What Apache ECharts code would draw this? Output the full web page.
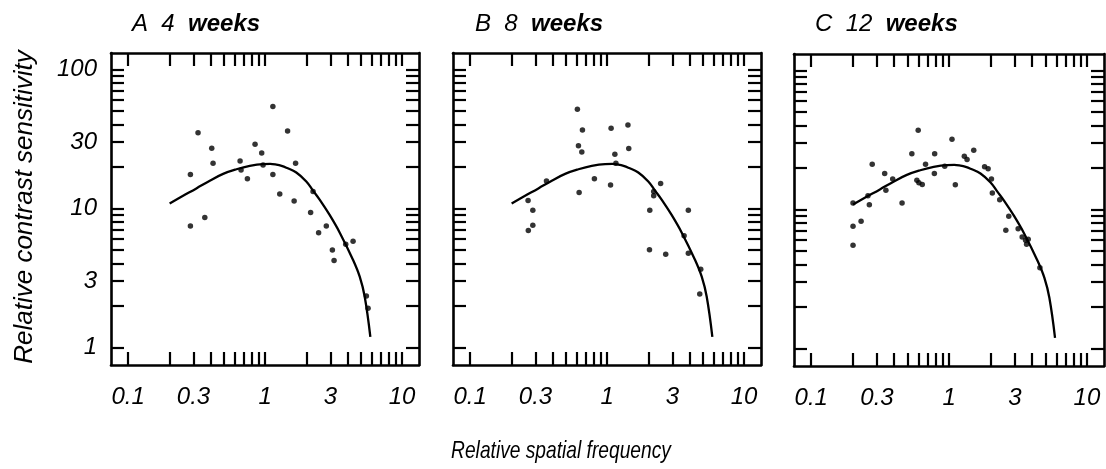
<!DOCTYPE html>
<html>
<head>
<meta charset="UTF-8">
<title>Relative contrast sensitivity</title>
<script src="https://cdn.jsdelivr.net/npm/echarts@6/dist/echarts.min.js"></script>
<style>
  html, body { margin: 0; padding: 0; background: #fff; }
  #chart { width: 1106px; height: 469px; }
</style>
</head>
<body>
<div id="chart"></div>
<script>
// panel titles
var panelLetters = ['A', 'B', 'C'];
var panelAges = ['4', '8', '12'];

// tick marks and tick labels (log axes)
var xTicks = [0.1, 0.2, 0.3, 0.4, 0.5, 0.6, 0.7, 0.8, 0.9, 1, 2, 3, 4, 5, 6, 7, 8, 9, 10];
var xLabels = [0.1, 0.3, 1, 3, 10];
var yTicks = [1, 2, 3, 4, 5, 6, 7, 8, 9, 10, 20, 30, 40, 50, 60, 70, 80, 90, 100];
var yLabels = [1, 3, 10, 30, 100];

// fitted curve (same template in every panel)
var curve = [
  [0.201, 10.85], [0.252, 12.3], [0.315, 13.9], [0.395, 15.8], [0.494, 17.7],
  [0.618, 19.1], [0.773, 20.2], [0.967, 20.8], [1.09, 20.85], [1.21, 20.6],
  [1.32, 20.2], [1.43, 19.6], [1.69, 18.1], [2.00, 15.6], [2.24, 13.4],
  [2.51, 11.5], [2.96, 8.96], [3.51, 6.68], [4.39, 4.25], [4.91, 3.22],
  [5.34, 2.31], [5.87, 1.19]
];

// measured points, 4 weeks
var weeks4 = [
  [0.285, 17.5], [0.285, 7.46], [0.324, 35.0], [0.363, 8.57], [0.408, 27.0],
  [0.417, 21.1], [0.657, 21.9], [0.668, 18.9], [0.743, 16.3], [0.845, 28.9],
  [0.945, 25.0], [0.967, 20.5], [1.14, 53.9], [1.14, 17.5], [1.28, 12.7],
  [1.46, 36.0], [1.63, 11.3], [1.67, 21.1], [2.15, 9.31], [2.24, 13.2],
  [2.46, 6.68], [2.80, 7.46], [3.10, 5.01], [3.19, 4.22], [3.88, 5.51],
  [4.39, 5.79], [5.49, 2.34], [5.65, 1.91]
];

// measured points, 8 weeks
var weeks8 = [
  [0.265, 11.4], [0.287, 9.68], [0.287, 7.55], [0.266, 6.91], [0.361, 15.7],
  [0.607, 51.6], [0.661, 36.6], [0.618, 28.2], [0.654, 25.4], [0.625, 13.0],
  [0.808, 16.3], [1.06, 14.7], [1.07, 37.6], [1.14, 24.5], [1.16, 21.1],
  [1.42, 39.8], [1.44, 26.9], [2.05, 9.68], [2.04, 5.04], [2.19, 13.2],
  [2.19, 12.3], [2.46, 15.1], [2.68, 4.67], [3.65, 6.36], [3.92, 9.68],
  [3.92, 4.75], [4.83, 3.64], [4.75, 2.42]
];

// measured points, 12 weeks
var weeks12 = [
  [0.201, 11.1], [0.201, 7.55], [0.201, 5.51], [0.230, 8.20], [0.264, 10.8],
  [0.258, 12.5], [0.277, 21.1], [0.341, 18.1], [0.348, 13.7], [0.390, 16.5],
  [0.456, 11.1], [0.537, 25.1], [0.597, 37.0], [0.584, 16.2], [0.604, 15.5],
  [0.639, 15.1], [0.675, 21.1], [0.786, 25.1], [0.782, 18.1], [0.930, 20.4],
  [1.05, 31.9], [1.11, 15.0], [1.29, 24.1], [1.35, 22.8], [1.51, 26.6],
  [1.81, 20.2], [1.92, 19.6], [2.03, 16.5], [2.06, 13.1], [2.33, 11.7],
  [2.71, 8.91], [2.58, 7.06], [3.17, 7.26], [3.39, 6.32], [3.59, 5.98],
  [3.75, 6.08], [3.65, 5.60], [4.56, 3.80]
];

var panelPoints = [weeks4, weeks8, weeks12];

var chart = echarts.init(document.getElementById('chart'), null, { renderer: 'canvas' });

var FONT = 'Liberation Sans';
var X_MIN = 0.075, X_MAX = 13.3;
var Y_MIN = 0.746, Y_MAX = 131;

var grids = [
  { left: 111, top: 53, width: 308, height: 312 },
  { left: 453, top: 53, width: 308, height: 312 },
  { left: 794, top: 54, width: 310, height: 312 }
];
var titleLeft = [132, 475, 815];

var lineStyle = { color: '#000', width: 2.6 };
var tickStyle = { color: '#000', width: 2.2 };

function xAxisOf(i, pos) {
  return {
    type: 'log', logBase: 10, gridIndex: i, position: pos,
    min: X_MIN, max: X_MAX,
    axisLine: { show: true, onZero: false, lineStyle: lineStyle },
    axisTick: { show: true, inside: true, length: 13, customValues: xTicks, lineStyle: tickStyle },
    minorTick: { show: false },
    splitLine: { show: false },
    axisLabel: pos === 'bottom' ? {
      show: true, customValues: xLabels, margin: 20,
      fontFamily: FONT, fontStyle: 'italic', fontSize: 24, color: '#000',
      formatter: function (v) { return String(v); }
    } : { show: false }
  };
}

function yAxisOf(i, pos) {
  return {
    type: 'log', logBase: 10, gridIndex: i, position: pos,
    min: Y_MIN, max: Y_MAX,
    axisLine: { show: true, onZero: false, lineStyle: lineStyle },
    axisTick: { show: true, inside: true, length: 13, customValues: yTicks, lineStyle: tickStyle },
    minorTick: { show: false },
    splitLine: { show: false },
    axisLabel: (pos === 'left' && i === 0) ? {
      show: true, customValues: yLabels, margin: 14,
      fontFamily: FONT, fontStyle: 'italic', fontSize: 24, color: '#000',
      formatter: function (v) { return String(v); }
    } : { show: false }
  };
}

var xAxes = [], yAxes = [], series = [], titles = [];
for (var i = 0; i < 3; i++) {
  xAxes.push(xAxisOf(i, 'bottom'));
  xAxes.push(xAxisOf(i, 'top'));
  yAxes.push(yAxisOf(i, 'left'));
  yAxes.push(yAxisOf(i, 'right'));

  series.push({
    type: 'line', xAxisIndex: i * 2, yAxisIndex: i * 2,
    data: curve, smooth: 0.4, showSymbol: false, symbol: 'none',
    lineStyle: { color: '#000', width: 2.3 }, silent: true, z: 3
  });
  series.push({
    type: 'scatter', xAxisIndex: i * 2, yAxisIndex: i * 2,
    data: panelPoints[i], symbol: 'circle', symbolSize: 5.5,
    itemStyle: { color: '#000' }, silent: true, z: 4
  });

  titles.push({
    text: '{n|' + panelLetters[i] + '  ' + panelAges[i] + '  }{b|weeks}',
    left: titleLeft[i], top: 12, padding: 0,
    textStyle: {
      fontWeight: 'normal',
      rich: {
        n: { fontFamily: FONT, fontStyle: 'italic', fontWeight: 'normal', fontSize: 24, color: '#000' },
        b: { fontFamily: FONT, fontStyle: 'italic', fontWeight: 'bold', fontSize: 24, color: '#000' }
      }
    }
  });
}

var option = {
  animation: false,
  backgroundColor: '#fff',
  title: titles,
  grid: grids,
  xAxis: xAxes,
  yAxis: yAxes,
  series: series,
  graphic: [
    {
      type: 'text', x: 561, y: 451, scaleX: 0.8,
      style: {
        text: 'Relative spatial frequency', fill: '#000',
        font: 'italic 24px ' + FONT, align: 'center', verticalAlign: 'middle'
      }
    },
    {
      type: 'text', x: 25, y: 207, rotation: Math.PI / 2,
      style: {
        text: 'Relative contrast sensitivity', fill: '#000',
        font: 'italic 26px ' + FONT, align: 'center', verticalAlign: 'middle'
      }
    }
  ]
};

chart.setOption(option);
</script>
</body>
</html>
